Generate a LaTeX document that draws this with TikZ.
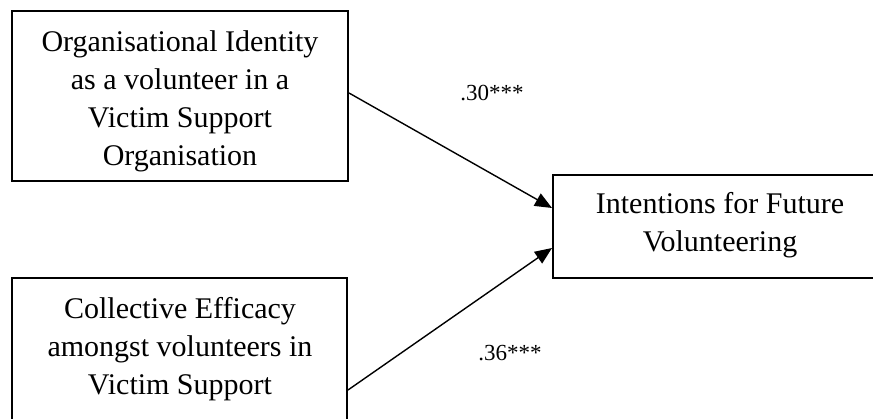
\documentclass[tikz,border=0pt]{standalone}
\usepackage{fontspec}
\setmainfont{Liberation Serif}
\usetikzlibrary{arrows.meta}
\begin{document}
\begin{tikzpicture}[x=1pt,y=-1pt,
  box/.style={draw=black, line width=2pt, rectangle, inner sep=0pt},
  txt/.style={align=center, inner sep=0pt, font=\fontsize{30}{38}\selectfont},
  conn/.style={line width=1.4pt, -{Triangle[length=17pt,width=14pt]}},
  lbl/.style={font=\fontsize{23}{28}\selectfont, inner sep=0pt}]
\useasboundingbox (0,0) rectangle (873,419);
\begin{scope}
\clip (0,0) rectangle (873,419);
\node[box, minimum width=336pt, minimum height=170pt] (b1) at (180,96) {};
\node[box, minimum width=335pt, minimum height=144pt] (b2) at (179.5,350) {};
\node[box, minimum width=334pt, minimum height=103pt] (b3) at (720,226.5) {};
\end{scope}
\node[txt] (t1) at (180,101)
  {Organisational Identity\\as a volunteer in a\\Victim Support\\Organisation};
\node[txt] (t2) at (180,349)
  {Collective Efficacy\\amongst volunteers in\\Victim Support};
\node[txt] (t3) at (720,225)
  {Intentions for Future\\Volunteering};
\draw[conn] ([yshift=3pt]b1.east) -- ([yshift=18.5pt]b3.west);
\draw[conn] ([yshift=-40pt]b2.east) -- ([yshift=-21.5pt]b3.west);
\node[lbl] (l1) at (492,93) {.30***};
\node[lbl] (l2) at (510,353) {.36***};
\end{tikzpicture}
\end{document}
